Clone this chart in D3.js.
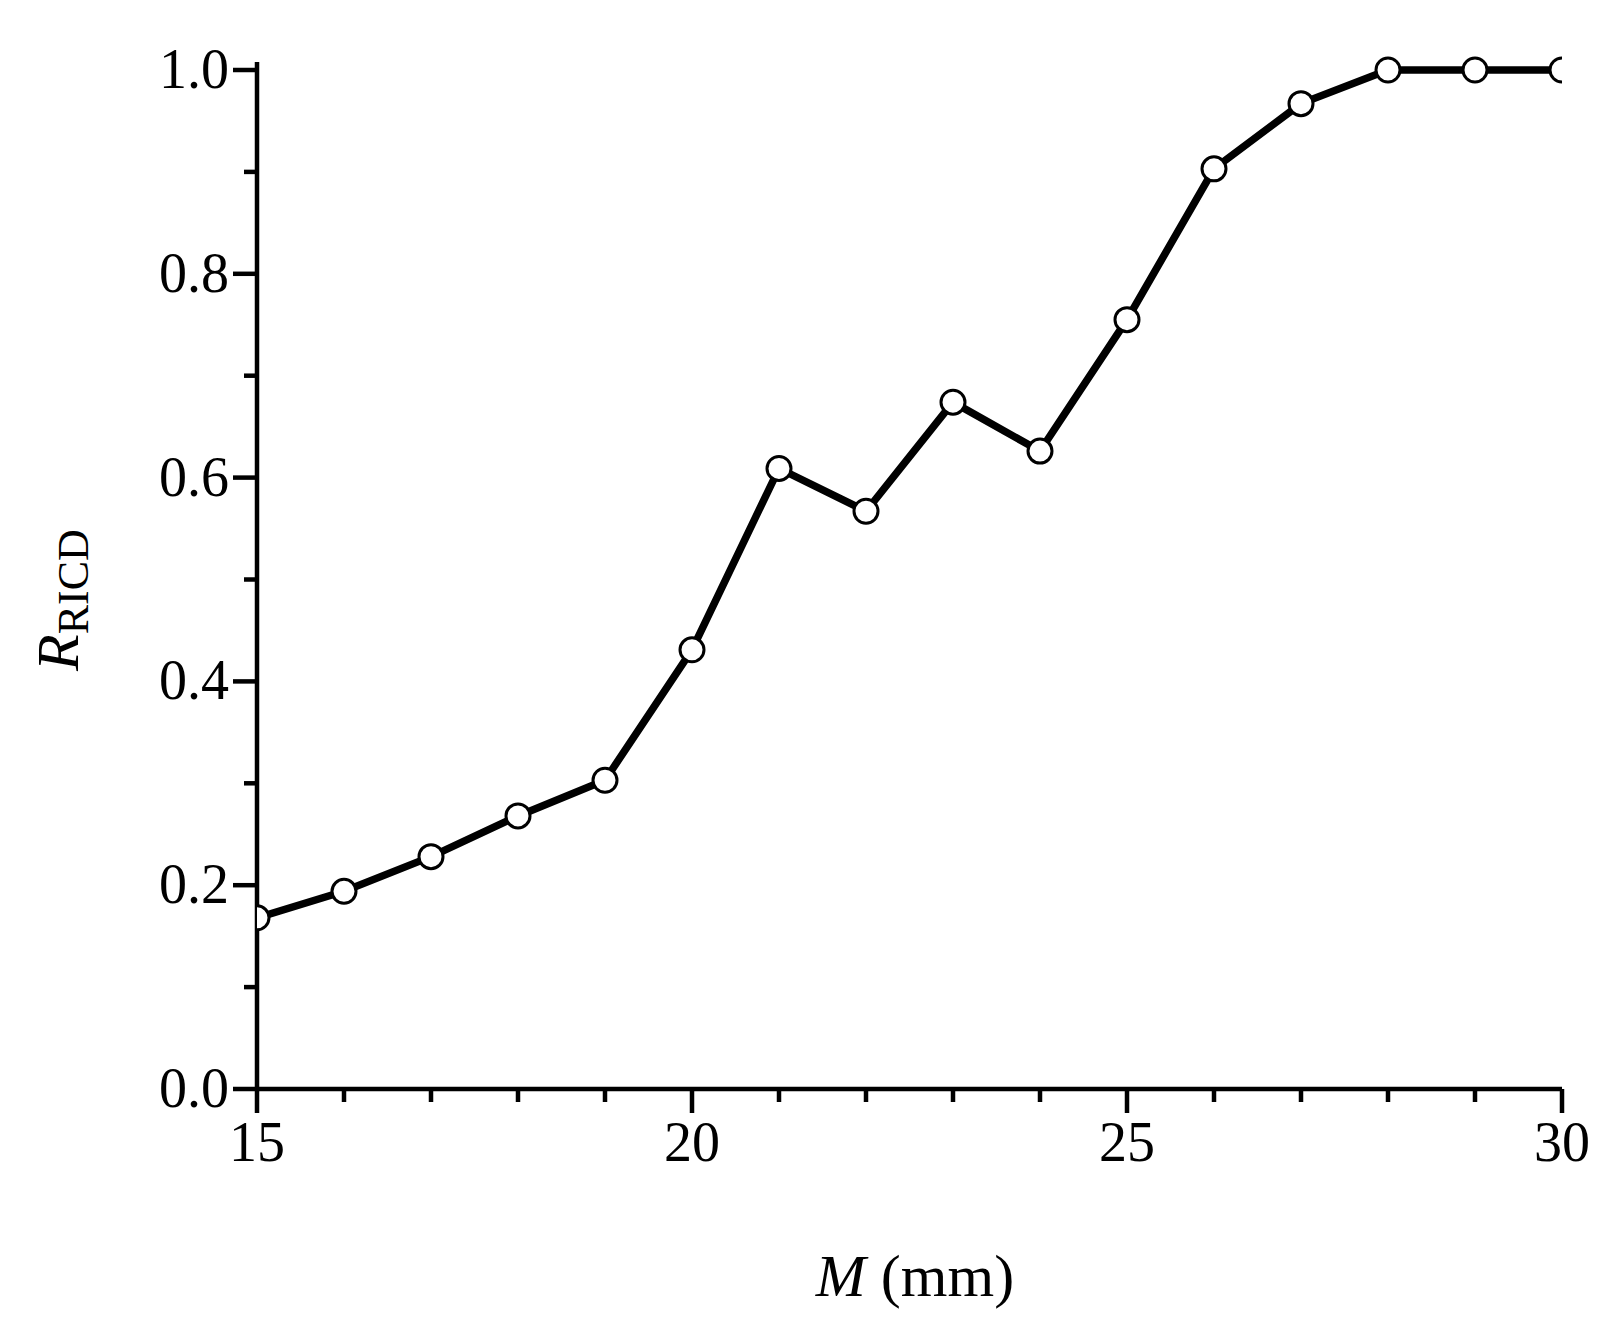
<!DOCTYPE html>
<html><head><meta charset="utf-8">
<script src="https://cdn.jsdelivr.net/npm/d3@7"></script>
<style>body{margin:0;background:#fff}</style></head>
<body><svg id="c" width="1606" height="1323"></svg>
<script>
const xVals=[15,16,17,18,19,20,21,22,23,24,25,26,27,28,29,30];
const yVals=[0.168,0.194,0.228,0.268,0.303,0.431,0.609,0.567,0.674,0.626,0.755,0.903,0.967,1.0,1.0,1.0];
const xTicks=[15,20,25,30];
const yTicks=[0,0.2,0.4,0.6,0.8,1.0];
const svg=d3.select("#c");
const L=257,R=1562,T=70,B=1089;
const x=d3.scaleLinear().domain([15,30]).range([L,R]);
const y=d3.scaleLinear().domain([0,1]).range([B,T]);
const font="Liberation Serif";
svg.append("defs").append("clipPath").attr("id","cl").append("rect").attr("x",L).attr("y",0).attr("width",R-L).attr("height",B);
const g=svg.append("g");
g.append("line").attr("x1",L).attr("x2",L).attr("y1",T-8).attr("y2",B).attr("stroke","#000").attr("stroke-width",4.5);
g.append("line").attr("x1",L-2).attr("x2",R).attr("y1",B).attr("y2",B).attr("stroke","#000").attr("stroke-width",4.5);
d3.range(0,1.01,0.1).forEach((v,i)=>{const maj=i%2==0;
 g.append("line").attr("x1",L).attr("x2",L-(maj?24:13)).attr("y1",y(v)).attr("y2",y(v)).attr("stroke","#000").attr("stroke-width",4.5);});
yTicks.forEach(v=>g.append("text").attr("x",L-28).attr("y",y(v)+18).attr("text-anchor","end").attr("font-family",font).attr("font-size",56).text(v.toFixed(1)));
d3.range(15,31).forEach(v=>{const maj=v%5==0;
 g.append("line").attr("x1",x(v)).attr("x2",x(v)).attr("y1",B).attr("y2",B+(maj?24:13)).attr("stroke","#000").attr("stroke-width",4.5);});
xTicks.forEach(v=>g.append("text").attr("x",x(v)).attr("y",B+72).attr("text-anchor","middle").attr("font-family",font).attr("font-size",56).text(v));
const xl=g.append("text").attr("x",915).attr("y",1296).attr("text-anchor","middle").attr("font-family",font).attr("font-size",60);
xl.append("tspan").attr("font-style","italic").text("M");
xl.append("tspan").text(" (mm)");
const yl=g.append("text").attr("transform","translate(78,600) rotate(-90)").attr("text-anchor","middle").attr("font-family",font).attr("font-size",60);
yl.append("tspan").attr("font-style","italic").text("R");
yl.append("tspan").attr("font-size",44).attr("dy",10).text("RICD");
const pts=xVals.map((v,i)=>[v,yVals[i]]);
const pg=svg.append("g").attr("clip-path","url(#cl)");
pg.append("path").attr("d",d3.line().x(d=>x(d[0])).y(d=>y(d[1]))(pts)).attr("fill","none").attr("stroke","#000").attr("stroke-width",7.5);
pg.selectAll("circle").data(pts).join("circle").attr("cx",d=>x(d[0])).attr("cy",d=>y(d[1])).attr("r",12).attr("fill","#fff").attr("stroke","#000").attr("stroke-width",3);
</script></body></html>
